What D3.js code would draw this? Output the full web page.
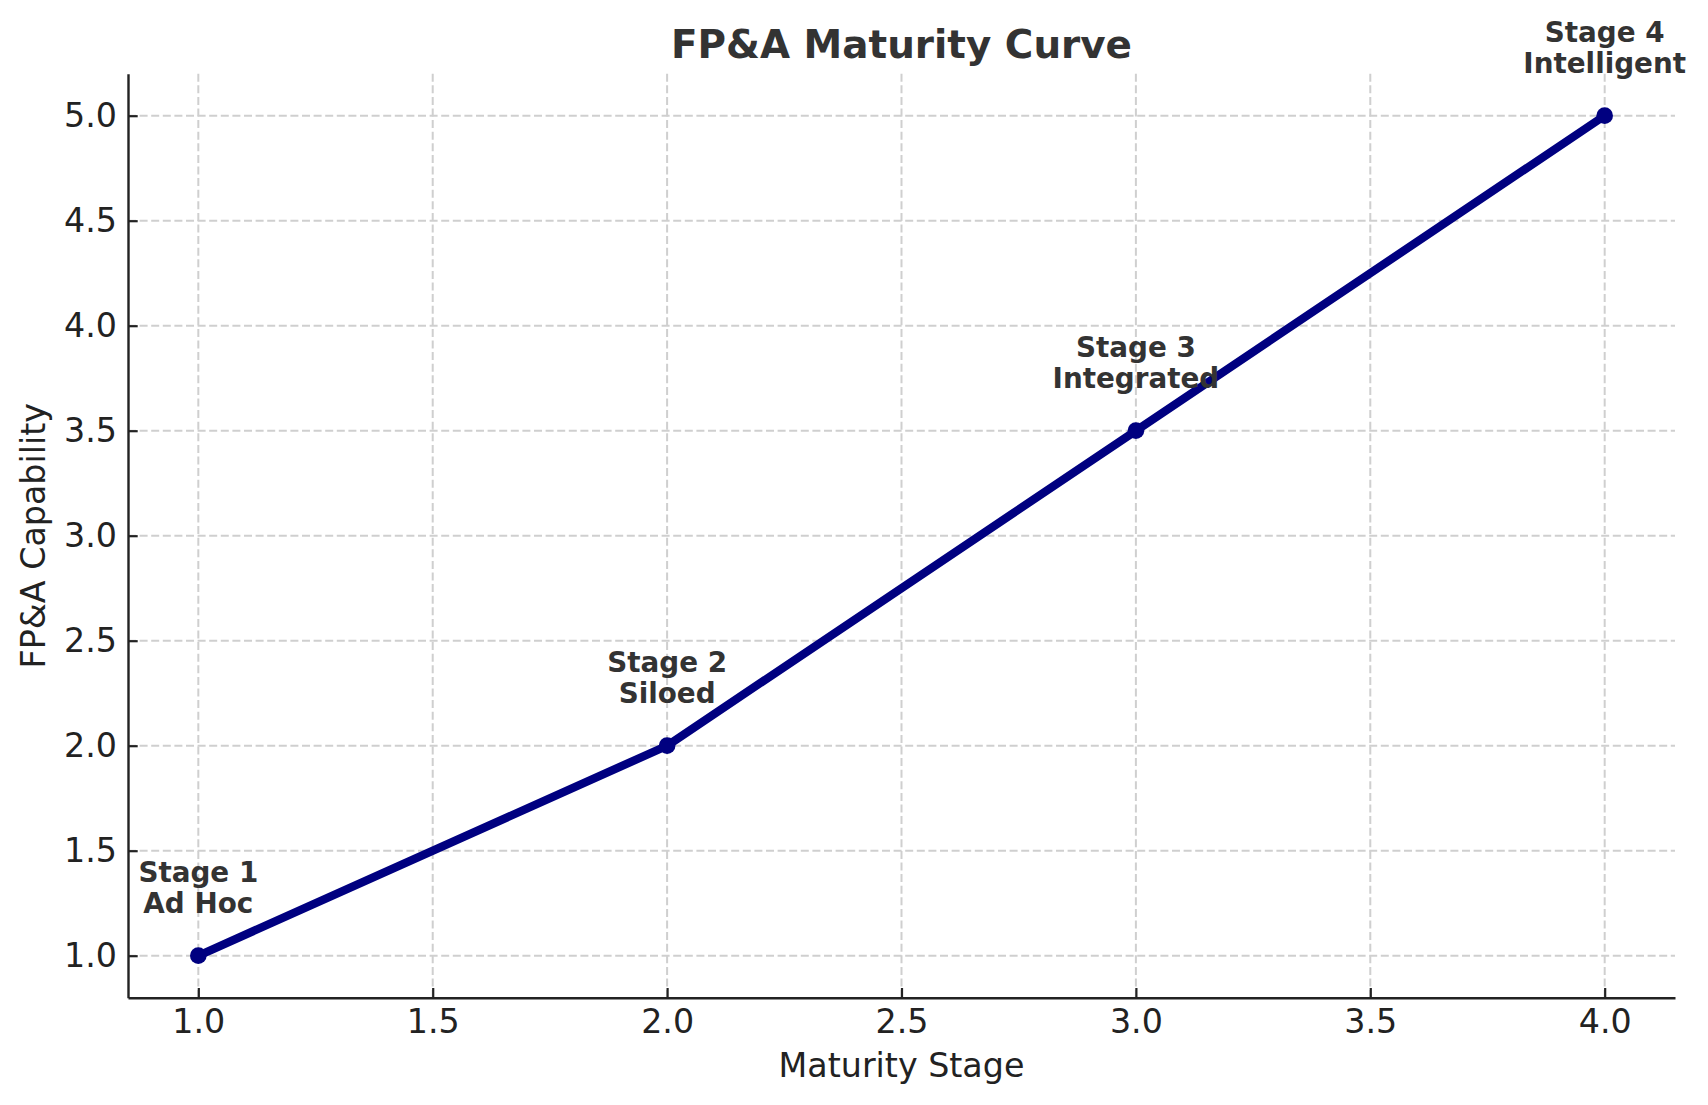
<!DOCTYPE html>
<html>
<head>
<meta charset="utf-8">
<script src="https://cdn.jsdelivr.net/npm/d3@7"></script>
<style>
  html, body { margin: 0; padding: 0; background: #fff; }
  svg { display: block; font-family: "DejaVu Sans", sans-serif; }
</style>
</head>
<body>
<svg id="chart" width="1708" height="1105"></svg>
<script>
// ---- data ----
const stages = [1, 2, 3, 4];
const capability = [1.0, 2.0, 3.5, 5.0];
const stageNames = ["Stage 1", "Stage 2", "Stage 3", "Stage 4"];
const stageLabels = ["Ad Hoc", "Siloed", "Integrated", "Intelligent"];
const xTicks = [1.0, 1.5, 2.0, 2.5, 3.0, 3.5, 4.0];
const yTicks = [1.0, 1.5, 2.0, 2.5, 3.0, 3.5, 4.0, 4.5, 5.0];
const titleText = "FP&A Maturity Curve";
const xLabelText = "Maturity Stage";
const yLabelText = "FP&A Capability";

// ---- layout ----
const W = 1708, H = 1105;
const pLeft = 128, pRight = 1675, pTop = 73.7, pBottom = 997.7;
const svg = d3.select("#chart");
svg.append("rect").attr("width", W).attr("height", H).attr("fill", "#fff");

const x = d3.scaleLinear().domain([0.85, 4.15]).range([pLeft, pRight]);
const y = d3.scaleLinear().domain([0.8, 5.2]).range([pBottom, pTop]);

// grid
const grid = svg.append("g").attr("stroke", "#cfcfcf").attr("stroke-width", 2).attr("stroke-dasharray", "8,3.6");
grid.selectAll("line.gx").data(xTicks).join("line").attr("class", "gx")
  .attr("x1", d => x(d)).attr("x2", d => x(d)).attr("y1", pTop).attr("y2", pBottom);
grid.selectAll("line.gy").data(yTicks).join("line").attr("class", "gy")
  .attr("x1", pLeft).attr("x2", pRight).attr("y1", d => y(d)).attr("y2", d => y(d));

// axes
const tickFont = 33.3;
const axisColor = "#222";
const xAxis = d3.axisBottom(x).tickValues(xTicks).tickFormat(d3.format(".1f"))
  .tickSizeInner(-9.7).tickSizeOuter(0).tickPadding(12);
const gx = svg.append("g").attr("transform", `translate(0,${pBottom})`).call(xAxis);
const yAxis = d3.axisLeft(y).tickValues(yTicks).tickFormat(d3.format(".1f"))
  .tickSizeInner(-9.7).tickSizeOuter(0).tickPadding(11);
const gy = svg.append("g").attr("transform", `translate(${pLeft},0)`).call(yAxis);
[gx, gy].forEach(g => {
  g.select(".domain").attr("stroke", axisColor).attr("stroke-width", 2.4);
  g.selectAll(".tick line").attr("stroke", axisColor).attr("stroke-width", 2.2);
  g.selectAll(".tick text").attr("fill", axisColor).style("font-size", tickFont + "px")
    .style("font-family", "DejaVu Sans");
});

// line
const pts = stages.map((s, i) => ({ s, v: capability[i], name: stageNames[i], label: stageLabels[i] }));
const line = d3.line().x(d => x(d.s)).y(d => y(d.v));
svg.append("path").datum(pts).attr("d", line)
  .attr("fill", "none").attr("stroke", "#000080").attr("stroke-width", 8.33)
  .attr("stroke-linejoin", "round").attr("stroke-linecap", "square");
svg.selectAll("circle.pt").data(pts).join("circle").attr("class", "pt")
  .attr("cx", d => x(d.s)).attr("cy", d => y(d.v)).attr("r", 8.33).attr("fill", "#000080");

// annotations
const ann = svg.selectAll("text.ann").data(pts).join("text").attr("class", "ann")
  .attr("text-anchor", "middle").attr("fill", "#333").style("font-weight", "bold")
  .style("font-size", "27.8px");
ann.append("tspan").attr("x", d => x(d.s)).attr("y", d => y(d.v) - 74).text(d => d.name);
ann.append("tspan").attr("x", d => x(d.s)).attr("y", d => y(d.v) - 42.4).text(d => d.label);

// title & labels
svg.append("text").attr("x", (pLeft + pRight) / 2).attr("y", 58.3).attr("text-anchor", "middle")
  .attr("fill", "#333").style("font-weight", "bold").style("font-size", "38.9px").text(titleText);
svg.append("text").attr("x", (pLeft + pRight) / 2).attr("y", 1077.3).attr("text-anchor", "middle")
  .attr("fill", axisColor).style("font-size", "33.3px").text(xLabelText);
svg.append("text").attr("transform", `translate(45,${(pTop + pBottom) / 2}) rotate(-90)`)
  .attr("text-anchor", "middle").attr("fill", axisColor).style("font-size", "33.3px").text(yLabelText);
</script>
</body>
</html>
